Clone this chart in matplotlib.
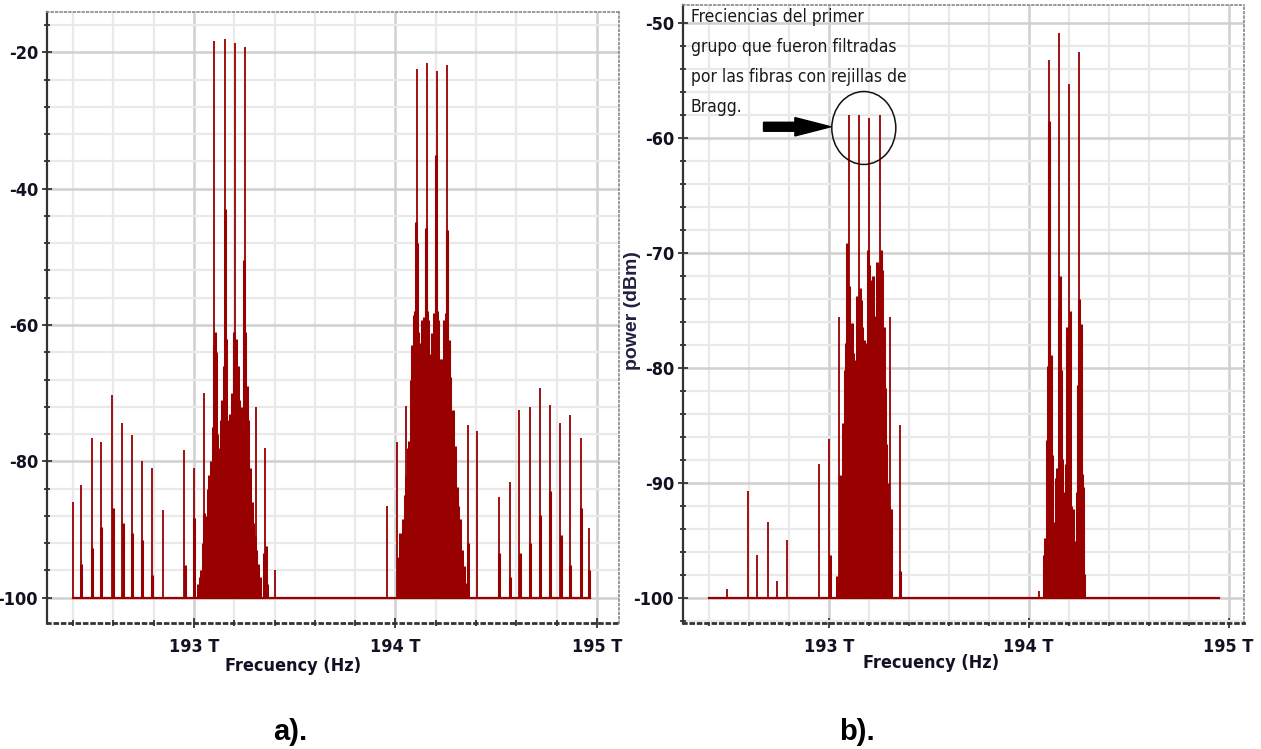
import matplotlib.pyplot as plt
import numpy as np
from matplotlib.ticker import FixedLocator, MultipleLocator
from matplotlib.patches import Ellipse, FancyArrow

plt.rcParams['font.family'] = ['DejaVu Sans']
plt.rcParams['font.stretch'] = 'condensed'
plt.rcParams['font.size'] = 12
plt.rcParams['axes.unicode_minus'] = False

RED = '#990000'

# ---------------- panel a) data (THz, dBm) ----------------
a_span = [192.40, 194.965]
a_comb_f = [192.401, 192.439, 192.492, 192.538, 192.595, 192.643, 192.691, 192.742,
            192.790, 192.845, 192.952, 193.000, 193.052, 193.101, 193.156, 193.203,
            193.251, 193.306, 193.354, 193.402, 193.956, 194.006, 194.050, 194.107,
            194.155, 194.205, 194.258, 194.358, 194.406, 194.514, 194.567, 194.615,
            194.667, 194.717, 194.767, 194.818, 194.866, 194.919, 194.959]
a_comb_p = [-85.9, -83.4, -76.6, -77.1, -70.3, -74.4, -76.1, -80.0,
            -81.0, -87.1, -78.3, -81.0, -70.0, -18.3, -18.1, -18.6,
            -19.3, -72.0, -78.1, -96.0, -86.6, -77.1, -71.9, -22.5,
            -21.6, -22.7, -21.8, -74.7, -75.6, -85.2, -83.0, -72.5,
            -72.0, -69.3, -71.7, -74.4, -73.2, -76.6, -89.8]
a_stub_f = [192.441, 192.494, 192.540, 192.597, 192.645, 192.693, 192.744, 192.792,
            192.954, 193.002, 193.153, 193.249, 193.356, 194.104, 194.152, 194.203,
            194.255, 194.360, 194.516, 194.569, 194.617, 194.669, 194.719, 194.769,
            194.820, 194.868, 194.921, 194.961]
a_stub_p = [-95.0, -92.7, -89.6, -86.8, -89.1, -90.5, -91.5, -96.6,
            -95.2, -88.3, -43.0, -50.5, -92.4, -44.9, -45.8, -35.1,
            -46.1, -92.0, -93.5, -97.0, -93.4, -91.9, -87.8, -84.4,
            -90.8, -95.2, -86.9, -96.0]
a_dense1_f = [193.020, 193.028, 193.036, 193.044, 193.050, 193.060, 193.068, 193.076,
              193.084, 193.092, 193.097, 193.104, 193.110, 193.116, 193.124, 193.132,
              193.140, 193.148, 193.158, 193.164, 193.172, 193.180, 193.188, 193.196,
              193.200, 193.208, 193.216, 193.224, 193.232, 193.240, 193.246, 193.255,
              193.262, 193.270, 193.278, 193.286, 193.294, 193.302, 193.310, 193.318,
              193.326, 193.346, 193.362]
a_dense1_p = [-98.0, -97.0, -96.0, -92.0, -87.5, -88.0, -84.0, -82.0,
              -80.0, -75.0, -63.0, -61.0, -64.0, -76.0, -78.0, -74.0,
              -71.0, -66.0, -62.0, -74.0, -76.0, -73.0, -70.0, -62.0,
              -61.0, -62.0, -66.0, -71.0, -75.0, -72.0, -67.0, -61.0,
              -69.0, -74.0, -81.0, -86.0, -89.0, -91.0, -93.0, -95.0,
              -97.0, -93.4, -98.0]
a_dense2_f = [194.014, 194.022, 194.031, 194.039, 194.047, 194.054, 194.060, 194.067,
              194.077, 194.084, 194.090, 194.097, 194.105, 194.113, 194.120, 194.127,
              194.133, 194.143, 194.150, 194.157, 194.163, 194.170, 194.176, 194.183,
              194.193, 194.200, 194.207, 194.213, 194.219, 194.229, 194.239, 194.249,
              194.257, 194.266, 194.272, 194.279, 194.287, 194.295, 194.304, 194.312,
              194.322, 194.332, 194.342, 194.348]
a_dense2_p = [-94.0, -90.5, -91.0, -88.5, -85.0, -82.0, -78.0, -77.0,
              -68.0, -63.0, -58.5, -58.0, -48.0, -61.0, -66.6, -62.7,
              -59.3, -58.8, -46.0, -58.0, -59.3, -64.2, -64.7, -61.2,
              -58.3, -52.0, -58.0, -59.3, -65.0, -65.0, -59.3, -58.3,
              -47.0, -62.2, -67.6, -73.0, -72.4, -77.8, -83.7, -86.6,
              -88.5, -93.0, -95.4, -97.9]

# ---------------- panel b) data (THz, dBm) ----------------
b_span = [192.40, 194.953]
b_comb_f = [192.489, 192.593, 192.640, 192.693, 192.742, 192.791, 192.953, 193.002,
            193.050, 193.102, 193.153, 193.202, 193.256, 193.306, 193.354, 194.052,
            194.104, 194.153, 194.202, 194.250]
b_comb_p = [-99.2, -90.75, -96.3, -93.4, -98.5, -95.0, -88.4, -86.2,
            -75.6, -58.0, -58.0, -58.2, -58.0, -75.6, -85.0, -99.4,
            -53.2, -50.8, -55.3, -52.5]
b_stub_f = [193.004, 193.356, 194.102]
b_stub_p = [-96.3, -97.7, -58.5]
b_dense1_f = [193.043, 193.057, 193.063, 193.072, 193.080, 193.087, 193.092, 193.100,
              193.107, 193.114, 193.122, 193.130, 193.139, 193.147, 193.154, 193.160,
              193.167, 193.174, 193.180, 193.189, 193.194, 193.200, 193.207, 193.214,
              193.222, 193.230, 193.239, 193.247, 193.254, 193.261, 193.267, 193.274,
              193.281, 193.287, 193.294, 193.301, 193.311]
b_dense1_p = [-98.1, -89.3, -91.8, -84.8, -80.2, -77.8, -69.1, -72.9,
              -76.4, -76.1, -78.7, -79.3, -73.7, -75.0, -73.0, -74.1,
              -76.4, -77.6, -78.7, -77.8, -69.7, -71.0, -72.3, -75.5,
              -72.0, -75.5, -70.8, -72.3, -71.0, -69.7, -71.5, -76.4,
              -81.7, -86.6, -90.0, -92.0, -92.3]
b_dense2_f = [194.077, 194.084, 194.090, 194.097, 194.104, 194.111, 194.117, 194.124,
              194.131, 194.137, 194.144, 194.151, 194.156, 194.161, 194.167, 194.174,
              194.181, 194.187, 194.194, 194.201, 194.207, 194.214, 194.221, 194.227,
              194.234, 194.241, 194.247, 194.254, 194.261, 194.268, 194.274, 194.279]
b_dense2_p = [-96.3, -94.8, -86.3, -79.8, -60.0, -78.9, -87.6, -95.1,
              -93.4, -89.6, -88.7, -74.8, -72.0, -80.2, -87.9, -90.8,
              -94.3, -88.4, -76.4, -78.3, -75.0, -92.0, -92.3, -95.1,
              -95.4, -90.8, -81.5, -74.0, -76.2, -89.2, -90.4, -97.9]

fig = plt.figure(figsize=(12.61, 7.49), dpi=100)
ax_a = fig.add_axes([0.03727, 0.16822, 0.45361, 0.81575])
ax_b = fig.add_axes([0.54163, 0.16822, 0.44528, 0.82510])


def draw_spectrum(ax, span, comb_f, comb_p, stub_f, stub_p, dense):
    ax.plot(span, [-100, -100], color=RED, lw=1.6, zorder=3)
    for f, p in dense:
        ax.vlines(f, -100, p, color=RED, lw=2.2, zorder=3)
    ax.vlines(stub_f, -100, stub_p, color=RED, lw=2.2, zorder=3)
    ax.vlines(comb_f, -100, comb_p, color=RED, lw=1.3, zorder=4)


def style_axes(ax, xlim, ylim, ymajor, yminor, xlabel_pos):
    ax.set_xlim(*xlim)
    ax.set_ylim(*ylim)
    ax.xaxis.set_major_locator(FixedLocator([193, 194, 195]))
    ax.set_xticklabels(['193 T', '194 T', '195 T'])
    ax.xaxis.set_minor_locator(MultipleLocator(0.2))
    ax.yaxis.set_major_locator(MultipleLocator(ymajor))
    ax.yaxis.set_minor_locator(MultipleLocator(yminor))
    ax.set_axisbelow(True)
    ax.grid(which='minor', color='#e9e9e9', lw=1.6)
    ax.grid(which='major', color='#d0d0d0', lw=1.8)
    ax.tick_params(which='both', direction='inout', color='#333333', width=1.3)
    ax.tick_params(which='major', length=7)
    ax.tick_params(which='minor', length=5)
    ax.tick_params(axis='x', which='major', pad=7, labelsize=13)
    ax.tick_params(axis='y', which='major', pad=3, labelsize=13)
    for lab in ax.get_xticklabels() + ax.get_yticklabels():
        lab.set_fontweight('semibold')
        lab.set_color('#111122')
    ax.spines['left'].set_color('#333333')
    ax.spines['left'].set_linewidth(1.6)
    ax.spines['bottom'].set_color('#333333')
    ax.spines['bottom'].set_linestyle(':')
    ax.spines['bottom'].set_linewidth(2)
    for s in ['top', 'right']:
        ax.spines[s].set_color('#888888')
        ax.spines[s].set_linestyle(':')
        ax.spines[s].set_linewidth(1.2)
    ax.set_xlabel('Frecuency (Hz)', fontsize=13, fontweight='semibold', color='#111122')
    ax.xaxis.set_label_coords(*xlabel_pos)


draw_spectrum(ax_a, a_span, a_comb_f, a_comb_p, a_stub_f, a_stub_p,
              [(a_dense1_f, a_dense1_p), (a_dense2_f, a_dense2_p)])
style_axes(ax_a, (192.27, 195.11), (-103.7, -14.1), 20, 4, (0.43, -0.055))

draw_spectrum(ax_b, b_span, b_comb_f, b_comb_p, b_stub_f, b_stub_p,
              [(b_dense1_f, b_dense1_p), (b_dense2_f, b_dense2_p)])
style_axes(ax_b, (192.27, 195.08), (-102.2, -48.4), 10, 2, (0.442, -0.05))
ax_b.set_ylabel('power (dBm)', fontsize=14, fontweight='bold', color='#202040',
                family=['Liberation Sans', 'DejaVu Sans'], fontstretch='normal')
ax_b.yaxis.set_label_coords(-0.075, 0.505)

# annotation in panel b
ax_b.text(0.014, 0.995, 'Freciencias del primer\ngrupo que fueron filtradas\n'
          'por las fibras con rejillas de\nBragg.', transform=ax_b.transAxes,
          ha='left', va='top', fontsize=12.5, linespacing=1.86, color='#1a1a1a')
ax_b.add_patch(Ellipse((0.322, 0.801), 0.114, 0.118, transform=ax_b.transAxes,
                       fill=False, ec='#111111', lw=1.1, zorder=6))
ax_b.add_patch(FancyArrow(192.673, -59.0, 0.337, 0, width=0.78, head_width=1.6,
                          head_length=0.18, length_includes_head=True,
                          color='black', zorder=6))

fig.text(0.230, 0.012, 'a).', fontsize=21, fontweight='bold', ha='center',
         family=['Liberation Sans', 'DejaVu Sans'], fontstretch='normal')
fig.text(0.680, 0.012, 'b).', fontsize=21, fontweight='bold', ha='center',
         family=['Liberation Sans', 'DejaVu Sans'], fontstretch='normal')

fig.savefig('out.png', dpi=100)
